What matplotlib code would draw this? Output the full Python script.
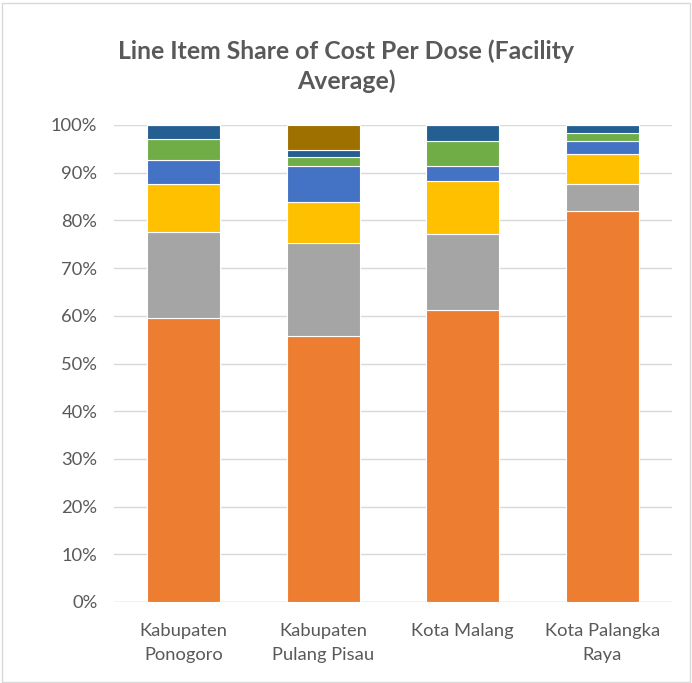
import matplotlib
matplotlib.use("Agg")
import matplotlib.pyplot as plt
import numpy as np

categories = ["Kabupaten\nPonogoro", "Kabupaten\nPulang Pisau", "Kota Malang", "Kota Palangka\nRaya"]
s_orange = [59.5, 55.8, 61.2, 82.0]
s_gray = [18.1, 19.5, 15.9, 5.6]
s_yellow = [10.0, 8.5, 11.1, 6.3]
s_blue = [5.1, 7.7, 3.3, 2.7]
s_green = [4.4, 1.7, 5.1, 1.7]
s_darkblue = [2.9, 1.6, 3.4, 1.7]
s_brown = [0.0, 5.2, 0.0, 0.0]

series = [s_orange, s_gray, s_yellow, s_blue, s_green, s_darkblue, s_brown]
colors = ["#ED7D31", "#A5A5A5", "#FFC000", "#4472C4", "#70AD47", "#255E91", "#9E7000"]

plt.rcParams['font.family'] = ['Lato', 'DejaVu Sans']
fig = plt.figure(figsize=(6.92, 6.83), dpi=100)
ax = fig.add_axes([114/692, 1-602/683, (672-114)/692, (602-125)/683])

x = np.arange(len(categories))
bottom = np.zeros(len(categories))
for vals, c in zip(series, colors):
    v = np.array(vals)
    ax.bar(x, v, bottom=bottom, width=0.52, color=c, edgecolor="white", linewidth=0.8, zorder=3)
    bottom += v

ax.set_xlim(-0.5, len(categories)-0.5)
ax.set_ylim(0, 100)
ax.set_yticks(np.arange(0, 101, 10))
ax.set_yticklabels([f"{t}%" for t in range(0, 101, 10)], fontsize=13.2, color="#595959")
ax.set_xticks(x)
ax.set_xticklabels(categories, fontsize=13.2, color="#595959", linespacing=1.65)
ax.tick_params(axis='y', length=0, pad=12)
ax.tick_params(axis='x', length=0, pad=15)
ax.grid(axis='y', color="#D9D9D9", linewidth=1, zorder=0)
for s in ax.spines.values():
    s.set_visible(False)
ax.axhline(0, color="#D9D9D9", linewidth=1, zorder=2)

fig.text(0.5, 1-66/683, "Line Item Share of Cost Per Dose (Facility\nAverage)", ha="center", va="center",
         fontsize=17.8, fontweight="bold", color="#595959", linespacing=1.3)

border = plt.Rectangle((2/692, 0.002), 1-4/692, 1-4/683, transform=fig.transFigure,
                       fill=False, edgecolor="#D9D9D9", linewidth=1)
fig.patches.append(border)

fig.savefig("out.png", dpi=100)
